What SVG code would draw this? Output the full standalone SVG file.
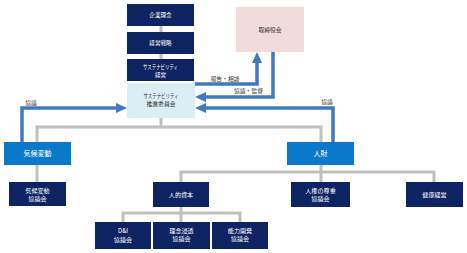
<svg xmlns="http://www.w3.org/2000/svg" width="467" height="253" viewBox="0 0 467 253">
<style>
text{font-family:"Noto Sans CJK JP","Noto Sans",sans-serif;text-anchor:middle}
.navy{fill:#0E2362}
.mid{fill:#0B79C9}
.wt{fill:#ffffff;font-size:5.6px}
.wb{fill:#ffffff;font-size:6.1px}
.big{fill:#ffffff;font-size:7px}
.lbl{fill:#333333;font-size:5.8px}
.gray{fill:none;stroke:#BFBFBF;stroke-width:3}
.blue{fill:none;stroke:#4179BF;stroke-width:3.5}
</style>
<defs>
<marker id="ah" viewBox="0 0 11 10" refX="0" refY="5" markerWidth="11" markerHeight="10" markerUnits="userSpaceOnUse" orient="auto">
<path d="M0,0 L11,5 L0,10 z" fill="#4179BF"/>
</marker>
</defs>
<g id="connectors">
<path class="gray" d="M161,26 V32"/>
<path class="gray" d="M161,54 V59"/>
<path class="gray" d="M161,118 V127"/>
<path class="gray" d="M37,142 V127 H321 V142"/>
<path class="gray" d="M37,165 V182"/>
<path class="gray" d="M321,165 V182"/>
<path class="gray" d="M181,182 V172 H434 V182"/>
<path class="gray" d="M181,207 V222"/>
<path class="gray" d="M123,222 V213 H240 V222"/>
<path class="blue" d="M22,142 V108 H116" marker-end="url(#ah)"/>
<path class="blue" d="M195,84 H257 V63" marker-end="url(#ah)"/>
<path class="blue" d="M273,52 V97 H206" marker-end="url(#ah)"/>
<path class="blue" d="M333,142 V108 H206" marker-end="url(#ah)"/>
<text class="lbl" x="31" y="105">協議</text>
<text class="lbl" x="225" y="81">報告・相談</text>
<text class="lbl" x="248.5" y="93">協議・監督</text>
<text class="lbl" x="327" y="104">協議</text>
</g>
<g id="kigyo-rinen">
<rect class="navy" x="127" y="4" width="67" height="22"/>
<text class="wt" x="160.5" y="17">企業理念</text>
</g>
<g id="keiei-senryaku">
<rect class="navy" x="127" y="32" width="67" height="22"/>
<text class="wt" x="160.5" y="45">経営戦略</text>
</g>
<g id="sustainability-keiei">
<rect class="navy" x="127" y="59" width="67" height="22"/>
<text class="wt" x="160.5" y="68.5" textLength="35" lengthAdjust="spacingAndGlyphs">サステナビリティ</text>
<text class="wt" x="160.5" y="76.5">経営</text>
</g>
<g id="torishimariyakukai">
<rect fill="#F2DCDB" x="236" y="7" width="68" height="45"/>
<text class="lbl" x="270" y="32">取締役会</text>
</g>
<g id="suishin-iinkai">
<rect fill="#DBEEF4" x="127" y="83" width="68" height="35"/>
<text class="lbl" x="161" y="98" textLength="35" lengthAdjust="spacingAndGlyphs">サステナビリティ</text>
<text class="lbl" x="161" y="106">推進委員会</text>
</g>
<g id="kiko-hendo">
<rect class="mid" x="4" y="142" width="67" height="23"/>
<text class="big" x="37.5" y="156">気候変動</text>
</g>
<g id="jinzai">
<rect class="mid" x="287" y="142" width="67" height="23"/>
<text class="big" x="320.5" y="156">人財</text>
</g>
<g id="kiko-hendo-kyogikai">
<rect class="navy" x="9" y="182" width="57" height="24"/>
<text class="wb" x="37.5" y="192.5">気候変動</text>
<text class="wb" x="37.5" y="200.5">協議会</text>
</g>
<g id="jinteki-shihon">
<rect class="navy" x="153" y="182" width="56" height="25"/>
<text class="wb" x="181" y="196.5">人的資本</text>
</g>
<g id="jinken-kyogikai">
<rect class="navy" x="291" y="182" width="59" height="25"/>
<text class="wb" x="320.5" y="192.5">人権の尊重</text>
<text class="wb" x="320.5" y="201">協議会</text>
</g>
<g id="kenko-keiei">
<rect class="navy" x="406" y="182" width="57" height="25"/>
<text class="wb" x="434.5" y="196.5">健康経営</text>
</g>
<g id="di-kyogikai">
<rect class="navy" x="95" y="222" width="56" height="27"/>
<text class="wb" x="123" y="232.5">D&amp;I</text>
<text class="wb" x="123" y="241.5">協議会</text>
</g>
<g id="rinen-shinto-kyogikai">
<rect class="navy" x="153" y="222" width="57" height="27"/>
<text class="wb" x="181.5" y="232.5">理念浸透</text>
<text class="wb" x="181.5" y="240.5">協議会</text>
</g>
<g id="noryoku-kaihatsu-kyogikai">
<rect class="navy" x="212" y="222" width="56" height="27"/>
<text class="wb" x="240" y="232.5">能力開発</text>
<text class="wb" x="240" y="240.5">協議会</text>
</g>
</svg>
